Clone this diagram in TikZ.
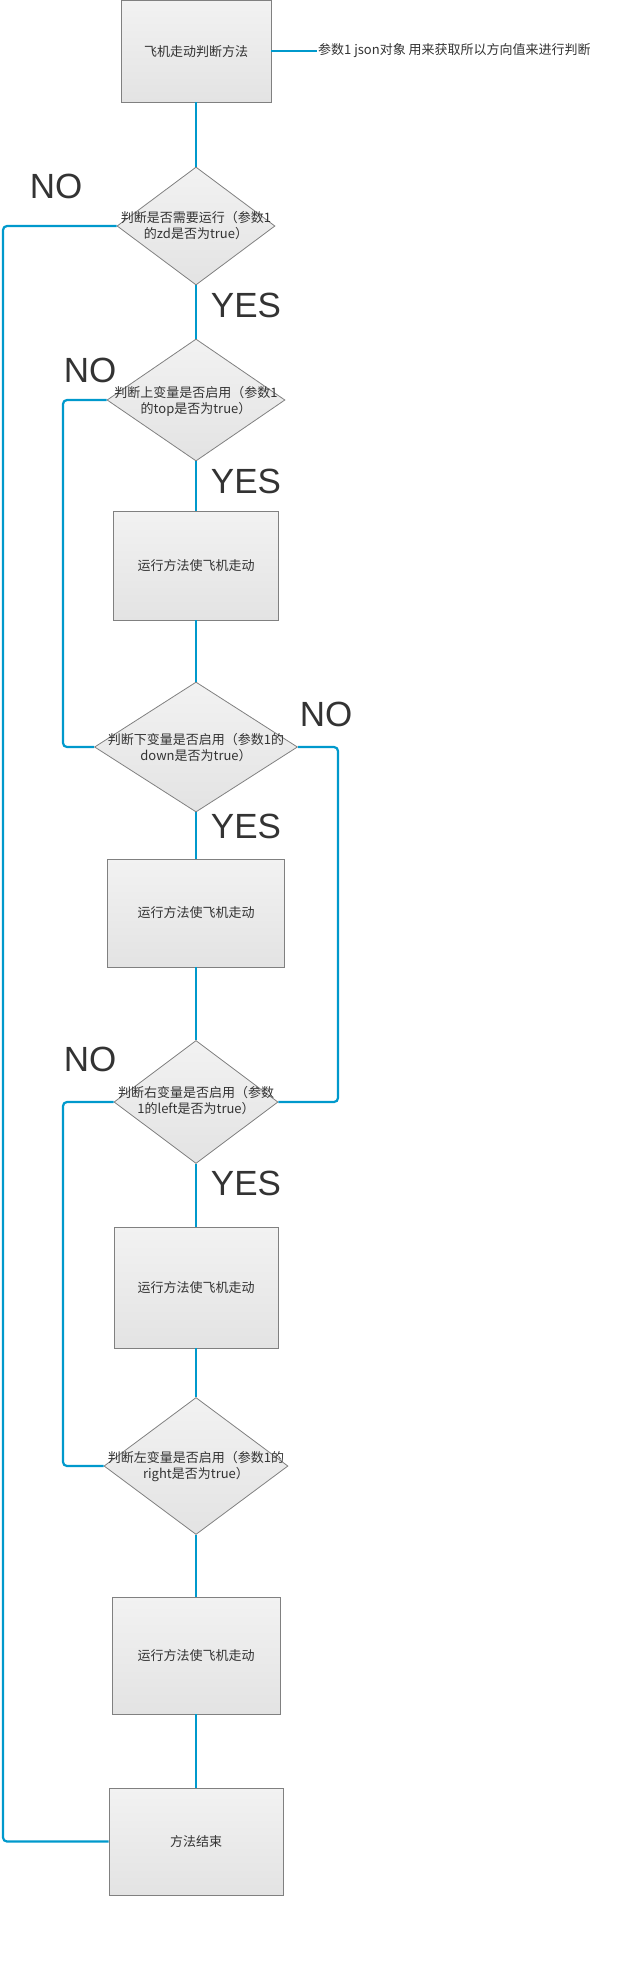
\documentclass[tikz,border=0pt]{standalone}
\usepackage{fontspec}
\setmainfont{Noto Sans CJK SC}
\newfontfamily\yesfont{Liberation Sans}
\usetikzlibrary{shapes.geometric}
\definecolor{conn}{HTML}{0099CC}
\definecolor{bord}{HTML}{808080}
\definecolor{txt}{HTML}{333333}
\definecolor{ftop}{HTML}{F2F2F2}
\definecolor{fbot}{HTML}{E3E3E3}
\begin{document}
\begin{tikzpicture}[x=1pt,y=-1pt,
  box/.style={draw=bord, line width=0.8pt, top color=ftop, bottom color=fbot, inner sep=0pt},
  dia/.style={box, diamond},
  lbl/.style={font=\fontsize{13}{16}\selectfont, text=txt, align=center, inner sep=0pt},
  yn/.style={font=\yesfont\fontsize{35}{40}\selectfont, text=txt, inner sep=0pt},
  link/.style={draw=conn, line width=2.2pt, rounded corners=4pt}
]
\useasboundingbox (0,0) rectangle (624,1984);

% nodes
\node[box, minimum width=150pt, minimum height=102pt] (top) at (196,51) {};
\node[lbl] (topt) at (196,52) {飞机走动判断方法};
\node[lbl, anchor=west, inner sep=1pt] (ann) at (317,51) {参数1 json对象 用来获取所以方向值来进行判断};

\node[dia, minimum width=158pt, minimum height=118pt] (d1) at (196,226) {};
\node[lbl] (d1t) at (196,226) {判断是否需要运行（参数1\\的zd是否为true）};

\node[dia, minimum width=178pt, minimum height=122pt] (d2) at (196,400) {};
\node[lbl] (d2t) at (196,401) {判断上变量是否启用（参数1\\的top是否为true）};

\node[box, minimum width=165pt, minimum height=109pt] (b2) at (196,565.5) {};
\node[lbl] (b2t) at (196,566) {运行方法使飞机走动};

\node[dia, minimum width=203pt, minimum height=130pt] (d3) at (196,747) {};
\node[lbl] (d3t) at (196,747.5) {判断下变量是否启用（参数1的\\down是否为true）};

\node[box, minimum width=177pt, minimum height=108pt] (b3) at (196,913) {};
\node[lbl] (b3t) at (196,913) {运行方法使飞机走动};

\node[dia, minimum width=164pt, minimum height=123pt] (d4) at (196,1102) {};
\node[lbl] (d4t) at (196,1101) {判断右变量是否启用（参数\\1的left是否为true）};

\node[box, minimum width=164pt, minimum height=121pt] (b4) at (196,1287.5) {};
\node[lbl] (b4t) at (196,1288) {运行方法使飞机走动};

\node[dia, minimum width=184pt, minimum height=137pt] (d5) at (196,1466) {};
\node[lbl] (d5t) at (196,1466.5) {判断左变量是否启用（参数1的\\right是否为true）};

\node[box, minimum width=168pt, minimum height=117pt] (b5) at (196,1655.5) {};
\node[lbl] (b5t) at (196,1656) {运行方法使飞机走动};

\node[box, minimum width=174pt, minimum height=107pt] (end) at (196,1841.5) {};
\node[lbl] (endt) at (196,1842) {方法结束};

% labels
\node[yn] (no1) at (56,186) {NO};
\node[yn] (yes1) at (246,305) {YES};
\node[yn] (no2) at (90,370) {NO};
\node[yn] (yes2) at (246,481) {YES};
\node[yn] (no3) at (326,714) {NO};
\node[yn] (yes3) at (246,826) {YES};
\node[yn] (no4) at (90,1059) {NO};
\node[yn] (yes4) at (246,1183) {YES};

% routing coordinates
\coordinate (L1) at (3,0);
\coordinate (L2) at (63,0);
\coordinate (R3) at (338,0);

% connectors
\draw[link] (top.east) -- (top.east -| ann.west);
\draw[link] (top.south) -- (d1.north);
\draw[link] (d1.south) -- (d2.north);
\draw[link] (d2.south) -- (b2.north);
\draw[link] (b2.south) -- (d3.north);
\draw[link] (d3.south) -- (b3.north);
\draw[link] (b3.south) -- (d4.north);
\draw[link] (d4.south) -- (b4.north);
\draw[link] (b4.south) -- (d5.north);
\draw[link] (d5.south) -- (b5.north);
\draw[link] (b5.south) -- (end.north);

\draw[link] (d1.west) -- (d1.west -| L1) |- (end.west);
\draw[link] (d2.west) -- (d2.west -| L2) |- (d3.west);
\draw[link] (d3.east) -- (d3.east -| R3) |- (d4.east);
\draw[link] (d4.west) -- (d4.west -| L2) |- (d5.west);
\end{tikzpicture}
\end{document}
